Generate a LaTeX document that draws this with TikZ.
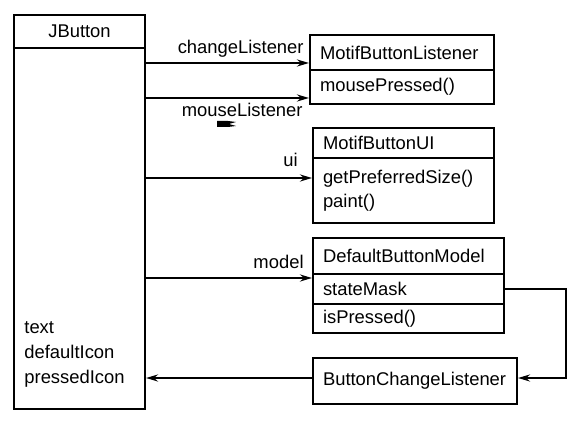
\documentclass[tikz,border=0pt]{standalone}
\usepackage{fontspec}
\setmainfont{Liberation Sans}
\usetikzlibrary{arrows.meta}

\tikzset{
  cls/.style={draw, line width=1pt, inner ysep=0pt, inner xsep=5pt, align=left, font=\fontsize{9.2}{12}\selectfont},
  lbl/.style={inner sep=0pt, anchor=base east, font=\fontsize{9.2}{12}\selectfont},
  attr/.style={inner sep=0pt, anchor=base west, font=\fontsize{9.2}{12}\selectfont},
  assoc/.style={line width=1pt, -{Stealth[length=6pt,width=3.5pt,inset=2pt]}}
}

\begin{document}
\begin{tikzpicture}[x=0.5pt,y=-0.5pt]
    \useasboundingbox (0,0) rectangle (581,426);
    % JButton
    \node[cls, align=center, minimum width=65.5pt, minimum height=16.5pt] (jbhead) at (79.5,31.5) {JButton};
    \node[cls, minimum width=65.5pt, minimum height=180.5pt] (jbbody) at (79.5,228.5) {};
    \node[attr] (jbtext) at (24,333) {text};
    \node[attr] (jbdef) at (24,358) {defaultIcon};
    \node[attr] (jbpress) at (24,383) {pressedIcon};
    % MotifButtonListener
    \node[cls, text width=82pt, minimum height=17.5pt] (mblhead) at (402,52.5) {MotifButtonListener};
    \node[cls, text width=82pt, minimum height=17pt] (mblops) at (402,87) {mousePressed()};
    % MotifButtonUI
    \node[cls, text width=80.5pt, minimum height=15pt] (uihead) at (403.5,143) {MotifButtonUI};
    \node[cls, text width=80.5pt, minimum height=32.5pt] (uiops) at (403.5,190.5) {getPreferredSize()\\paint()};
    % DefaultButtonModel
    \node[cls, text width=85.5pt, minimum height=18pt] (dbmhead) at (408.5,256) {DefaultButtonModel};
    \node[cls, text width=85.5pt, minimum height=15pt] (dbmstate) at (408.5,289) {stateMask};
    \node[cls, text width=85.5pt, minimum height=14.5pt] (dbmops) at (408.5,318.5) {isPressed()};
    % ButtonChangeListener
    \node[cls, text width=92pt, minimum height=23pt] (bcl) at (415,381) {ButtonChangeListener};

    \coordinate (r1) at (0,63);
    \coordinate (r2) at (0,98);
    \coordinate (r3) at (0,178);
    \coordinate (r4) at (0,278);
    \coordinate (r5) at (0,378);
    \coordinate (bend) at (566,289);

    \draw[assoc] (jbbody.east |- r1) -- (mblhead.west |- r1);
    \draw[assoc] (jbbody.east |- r2) -- (mblops.west |- r2);
    \draw[assoc] (jbbody.east |- r3) -- (uiops.west |- r3);
    \draw[assoc] (jbbody.east |- r4) -- (dbmhead.west |- r4);
    \draw[assoc] (dbmstate.east) -- (bend) |- (bcl.east |- r5);
    \draw[assoc] (bcl.west |- r5) -- (jbbody.east |- r5);

    \node[lbl] (lchange) at (304,54) {changeListener};
    \node[lbl] (lmouse) at (303,117) {mouseListener};
    \node[lbl] (lui) at (298,167) {ui};
    \node[lbl] (lmodel) at (304,269) {model};
    % stray tip under mouseListener
    \fill (217,121) -- (228,121) -- (236,122) -- (229,124) -- (236,126) -- (228,127) -- (217,127) -- cycle;
  \end{tikzpicture}
\end{document}
